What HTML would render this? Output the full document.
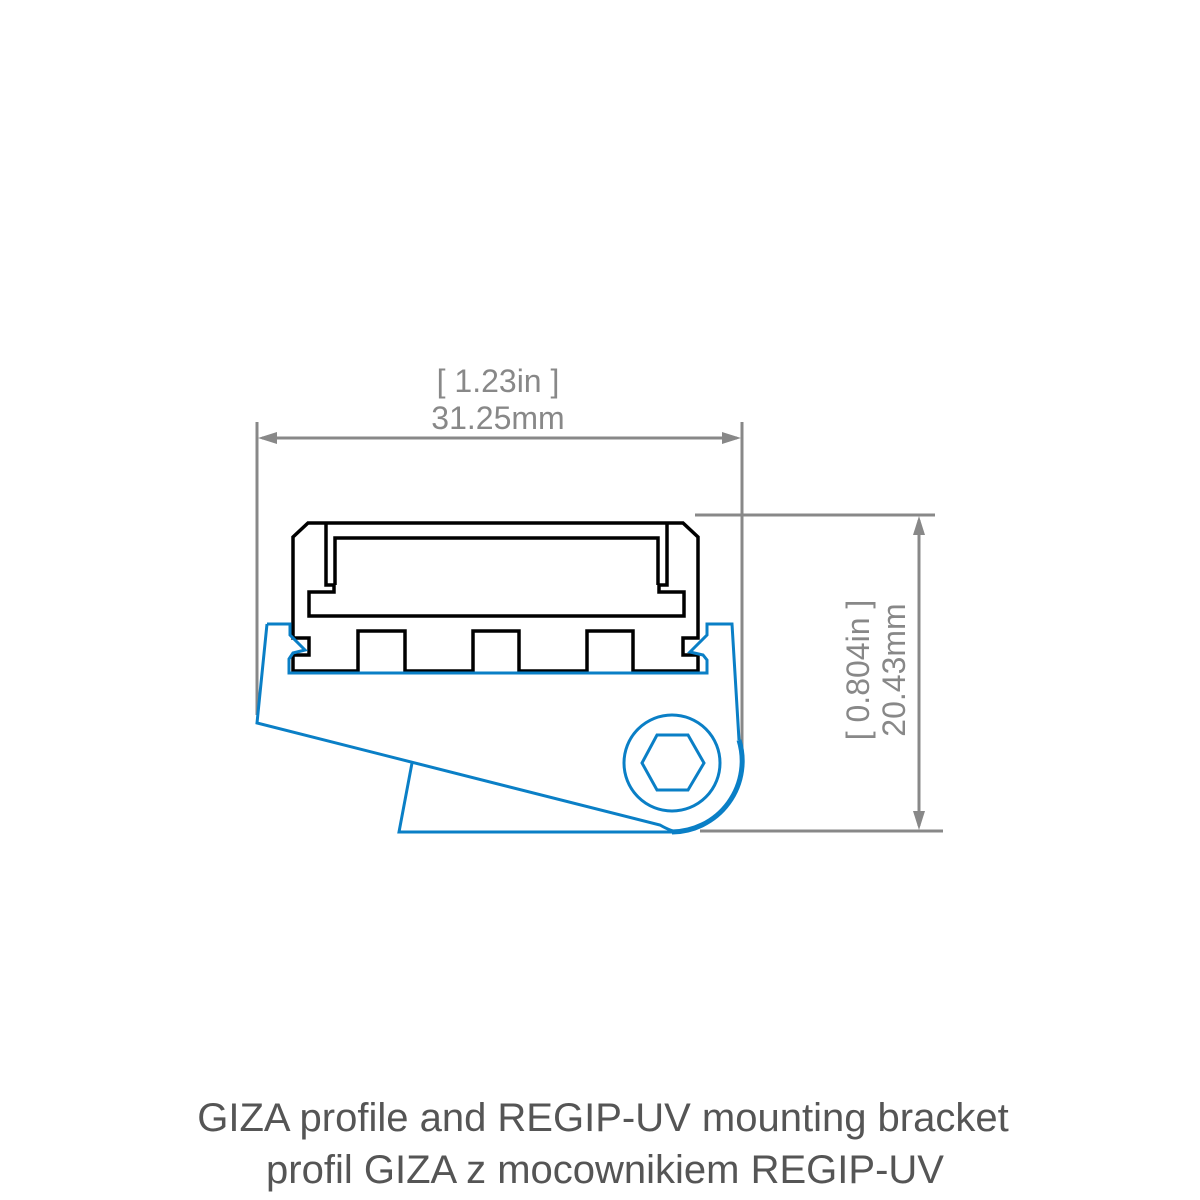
<!DOCTYPE html>
<html><head><meta charset="utf-8"><style>
html,body{margin:0;padding:0;background:#fff;}
svg{display:block;}
</style></head><body>
<svg width="1200" height="1200" viewBox="0 0 1200 1200" xmlns="http://www.w3.org/2000/svg">
<g stroke="#888" stroke-width="3" fill="none">
<line x1="257" y1="422" x2="257" y2="715"/>
<line x1="742" y1="422" x2="742" y2="750"/>
<line x1="262" y1="438" x2="737" y2="438"/>
<line x1="695" y1="515" x2="935" y2="515"/>
<line x1="700" y1="831" x2="943" y2="831"/>
<line x1="919" y1="520" x2="919" y2="826"/>
</g>
<g fill="#888">
<polygon points="258,438 277,432 277,444"/>
<polygon points="741,438 722,432 722,444"/>
<polygon points="919,516 913,535 925,535"/>
<polygon points="919,830 913,811 925,811"/>
</g>
<g font-family="Liberation Sans, sans-serif" font-size="32" fill="#888" text-anchor="middle">
<text x="498" y="392">[ 1.23in ]</text>
<text x="498" y="429">31.25mm</text>
<g transform="translate(869,670) rotate(-90)"><text x="0" y="0">[ 0.804in ]</text></g>
<g transform="translate(905,670) rotate(-90)"><text x="0" y="0">20.43mm</text></g>
</g>
<g stroke="#000" stroke-width="3.5" fill="none" stroke-linejoin="miter">
<path d="M293,537 L308,523 L683,523 L698,537 L698,638 L683,638 L683,655 L698,655 L698,671 L633,671 L633,631 L587,631 L587,671 L519,671 L519,631 L473,631 L473,671 L405,671 L405,631 L358,631 L358,671 L293,671 L293,655 L309,655 L309,638 L293,638 Z"/>
<path d="M326,523 V585 H334 V592 H309 V616 H684 V592 H659 V585 H667 V523"/>
<path d="M335,585 V538 H658 V585"/>
</g>
<g stroke="#0a7fc6" stroke-width="3" fill="none" stroke-linejoin="miter">
<path d="M267,624 L290,624 L290,635 L305,650 L293,653 L289,659 L289,673 L707,673 L707,660 L703,655 L690,652 L707,635 L707,624 L732,624 L739,740"/>
<path d="M267,624 L257,723 L660,825 Q672,832 680,832"/>
<path d="M412,763 L399,832 L680,832"/>
<circle cx="672" cy="763" r="48"/>
<polygon points="642,763 657,735 688,735 704,763 688,790 657,790"/>
</g>
<path d="M739,740 A71,71 0 0 1 672,832" stroke="#0a7fc6" stroke-width="5" fill="none"/>
<g font-family="Liberation Sans, sans-serif" font-size="40" fill="#555" text-anchor="middle">
<text x="603" y="1131">GIZA profile and REGIP-UV mounting bracket</text>
<text x="605" y="1183">profil GIZA z mocownikiem REGIP-UV</text>
</g>
</svg>
</body></html>
